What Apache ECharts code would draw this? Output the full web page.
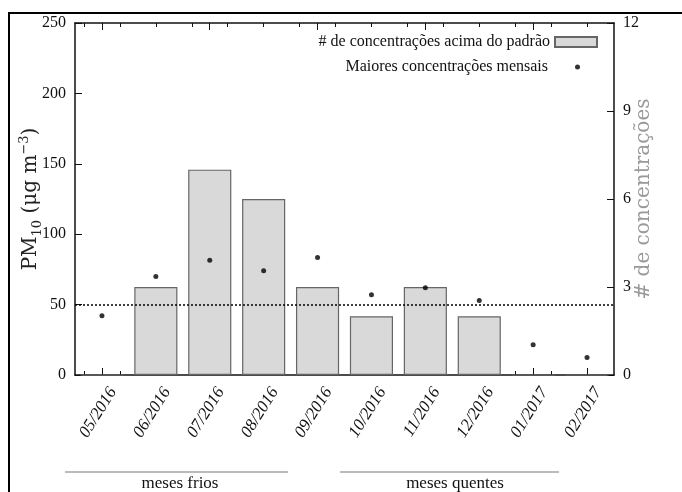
<!DOCTYPE html>
<html>
<head>
<meta charset="utf-8">
<script src="https://cdn.jsdelivr.net/npm/echarts@6/dist/echarts.min.js"></script>
<style>html,body{margin:0;padding:0;background:#fff}#c{width:682px;height:492px}</style>
</head>
<body>
<div id="c"></div>
<script>
// ---- data ----
var months = ['05/2016','06/2016','07/2016','08/2016','09/2016','10/2016','11/2016','12/2016','01/2017','02/2017'];
var countsAbove = [0, 3, 7, 6, 3, 2, 3, 2, 0, 0];          // # de concentrações acima do padrão (right axis)
var maxMonthly = [42, 70, 81.5, 74, 83.5, 57, 62, 53, 21.5, 12.5]; // PM10 maiores concentrações mensais (left axis)
var standard = 50;
var leftTicks = {min: 0, max: 250, interval: 50};
var rightTicks = {min: 0, max: 12, interval: 3};
var minorCats = [];
for (var i = 0; i < months.length * 3; i++) minorCats.push('m' + i);

var SERIF = '"Liberation Serif","DejaVu Serif",serif';
var chart = echarts.init(document.getElementById('c'));

function xAx(pos, data, major) {
  return {
    type: 'category', position: pos, data: data, boundaryGap: true,
    axisLine: {show: major, lineStyle: {color: '#111', width: 1.5}},
    axisTick: {show: true, inside: true, alignWithLabel: true, length: major ? 7 : 4, lineStyle: {color: '#111', width: 1}},
    axisLabel: (major && pos === 'bottom') ? {
      show: true, rotate: 58, margin: 7, verticalAlign: 'top', lineHeight: 26,
      fontFamily: SERIF, fontStyle: 'italic', fontSize: 17, color: '#111'
    } : {show: false},
    splitLine: {show: false}
  };
}

chart.setOption({
  animation: false,
  backgroundColor: '#fff',
  grid: {left: 75, right: 68, top: 23, bottom: 117, containLabel: false, outerBoundsMode: 'none'},
  legend: [
    {data: ['# de concentrações acima do padrão'], orient: 'vertical', right: 79, top: 29, align: 'right',
     icon: 'rect', itemWidth: 42, itemHeight: 10, textStyle: {fontFamily: SERIF, fontSize: 16, color: '#111'}},
    {data: ['Maiores concentrações mensais'], orient: 'vertical', right: 97, top: 54, align: 'right',
     icon: 'circle', itemWidth: 5, itemHeight: 5,
     textStyle: {fontFamily: SERIF, fontSize: 16, color: '#111', padding: [0, 22, 0, 0]}}
  ],
  xAxis: [
    xAx('bottom', months, true),
    xAx('bottom', minorCats, false),
    xAx('top', months, true),
    xAx('top', minorCats, false)
  ],
  yAxis: [
    {type: 'value', position: 'left', min: leftTicks.min, max: leftTicks.max, interval: leftTicks.interval,
     name: '{b|PM}{s|10}{b| (μg m}{p|−3}{b|)}', nameLocation: 'middle', nameRotate: 90, nameGap: 31, nameMoveOverlap: false,
     nameTextStyle: {fontFamily: SERIF, fontSize: 20, color: '#222', lineHeight: 26,
       rich: {
         b: {fontFamily: '"DejaVu Serif",serif', fontSize: 20, color: '#222', lineHeight: 26},
         s: {fontFamily: '"DejaVu Serif",serif', fontSize: 13, color: '#222', verticalAlign: 'bottom', lineHeight: 26},
         p: {fontFamily: '"DejaVu Serif",serif', fontSize: 13, color: '#222', verticalAlign: 'top', lineHeight: 26}
       }},
     axisLine: {show: true, lineStyle: {color: '#111', width: 1.5}},
     axisTick: {show: true, inside: true, length: 7, lineStyle: {color: '#111'}},
     axisLabel: {fontFamily: SERIF, fontSize: 16, color: '#111', margin: 9},
     splitLine: {show: false}},
    {type: 'value', position: 'right', min: rightTicks.min, max: rightTicks.max, interval: rightTicks.interval,
     name: '# de concentrações', nameLocation: 'middle', nameRotate: 90, nameGap: 20, nameMoveOverlap: false,
     nameTextStyle: {fontFamily: '"DejaVu Serif",serif', fontSize: 20, color: '#999'},
     axisLine: {show: true, lineStyle: {color: '#111', width: 1.5}},
     axisTick: {show: true, inside: true, length: 7, lineStyle: {color: '#111'}},
     axisLabel: {fontFamily: SERIF, fontSize: 16, color: '#111', margin: 9},
     splitLine: {show: false}}
  ],
  series: [
    {name: '# de concentrações acima do padrão', type: 'bar', xAxisIndex: 0, yAxisIndex: 1,
     data: countsAbove, barWidth: '80%',
     itemStyle: {color: '#d9d9d9', borderColor: '#666', borderWidth: 1.2}},
    {name: 'Maiores concentrações mensais', type: 'scatter', xAxisIndex: 0, yAxisIndex: 0,
     data: maxMonthly, symbolSize: 5, itemStyle: {color: '#000'},
     markLine: {silent: true, symbol: 'none', label: {show: false},
       lineStyle: {color: '#000', type: [2, 2], width: 1.5},
       data: [{yAxis: standard}]}}
  ],
  graphic: [
    {type: 'rect', shape: {x: 9, y: 13, width: 720, height: 520}, style: {fill: null, stroke: '#000', lineWidth: 2}, silent: true},
    {type: 'line', shape: {x1: 65, y1: 472, x2: 288, y2: 472}, style: {stroke: '#bbb', lineWidth: 2}},
    {type: 'line', shape: {x1: 340, y1: 472, x2: 559, y2: 472}, style: {stroke: '#bbb', lineWidth: 2}},
    {type: 'text', x: 180, y: 484, style: {text: 'meses frios', font: '17px ' + SERIF, fill: '#111', textAlign: 'center', textVerticalAlign: 'middle'}},
    {type: 'text', x: 455, y: 484, style: {text: 'meses quentes', font: '17px ' + SERIF, fill: '#111', textAlign: 'center', textVerticalAlign: 'middle'}}
  ]
});
</script>
</body>
</html>
